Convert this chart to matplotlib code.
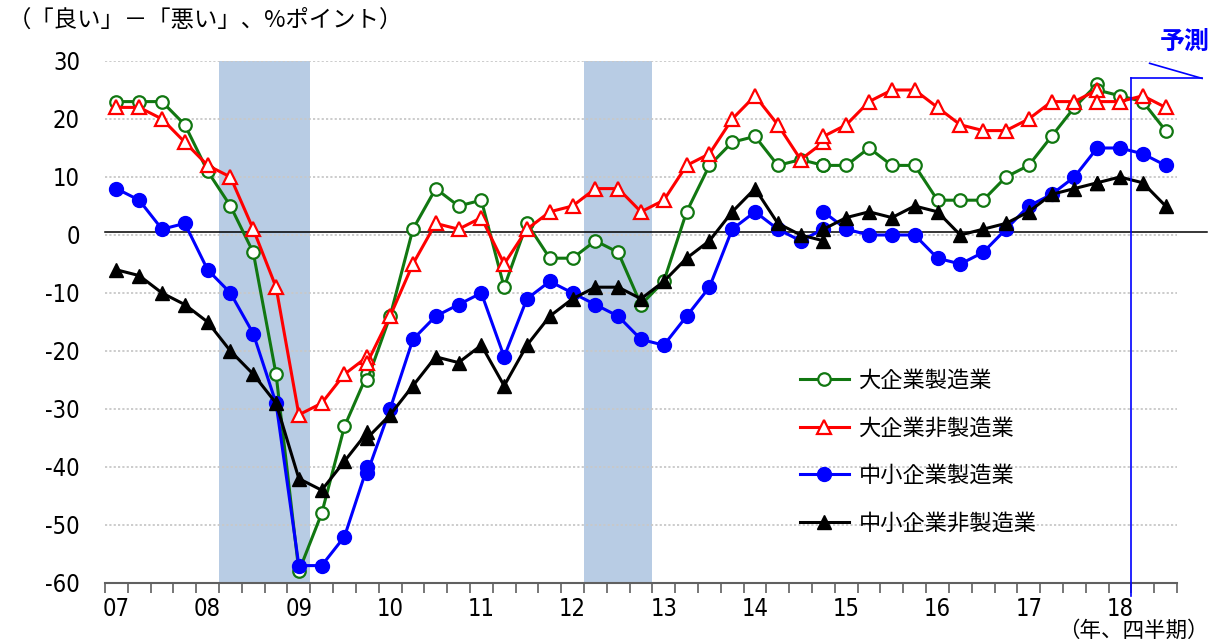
import numpy as np
import pandas as pd
import matplotlib
matplotlib.use("Agg")
import matplotlib.pyplot as plt
from matplotlib.lines import Line2D
from matplotlib import font_manager
from matplotlib.font_manager import FontProperties

plt.rcParams['font.family'] = ['Noto Sans CJK JP', 'DejaVu Sans']


def _pick_narrow():
    files = [f.fname for f in font_manager.fontManager.ttflist]
    for key in ['LiberationSansNarrow-Regular', 'DejaVuSansCondensed.ttf']:
        for fn in files:
            if key in fn:
                return fn
    return None


_narrow = _pick_narrow()

# ---------------- data ----------------
quarters = pd.period_range('2007Q1', '2018Q3', freq='Q')
year_labels = ['07', '08', '09', '10', '11', '12', '13', '14', '15', '16', '17', '18']
series_names = ['大企業製造業', '大企業非製造業', '中小企業製造業', '中小企業非製造業']

# survey framework segments (each segment overlaps at the break quarter)
seg_start = ['2007Q1', '2009Q4', '2014Q4', '2017Q4']
seg_end = ['2009Q4', '2014Q4', '2017Q4', '2018Q3']

large_mfg = [
    [23, 23, 23, 19, 11, 5, -3, -24, -58, -48, -33, -24],
    [-25, -14, 1, 8, 5, 6, -9, 2, -4, -4, -1, -3, -12, -8, 4, 12, 16, 17, 12, 13, 12],
    [12, 12, 15, 12, 12, 6, 6, 6, 10, 12, 17, 22, 26],
    [25, 24, 23, 18],
]
large_nonmfg = [
    [22, 22, 20, 16, 12, 10, 1, -9, -31, -29, -24, -21],
    [-22, -14, -5, 2, 1, 3, -5, 1, 4, 5, 8, 8, 4, 6, 12, 14, 20, 24, 19, 13, 16],
    [17, 19, 23, 25, 25, 22, 19, 18, 18, 20, 23, 23, 25],
    [23, 23, 24, 22],
]
small_mfg = [
    [8, 6, 1, 2, -6, -10, -17, -29, -57, -57, -52, -40],
    [-41, -30, -18, -14, -12, -10, -21, -11, -8, -10, -12, -14, -18, -19, -14, -9, 1, 4, 1, -1, 1],
    [4, 1, 0, 0, 0, -4, -5, -3, 1, 5, 7, 10, 15],
    [15, 15, 14, 12],
]
small_nonmfg = [
    [-6, -7, -10, -12, -15, -20, -24, -29, -42, -44, -39, -34],
    [-35, -31, -26, -21, -22, -19, -26, -19, -14, -11, -9, -9, -11, -8, -4, -1, 4, 8, 2, 0, -1],
    [1, 3, 4, 3, 5, 4, 0, 1, 2, 4, 7, 8, 9],
    [9, 10, 9, 5],
]

recessions = [('2008Q2', '2009Q1'), ('2012Q2', '2012Q4')]
forecast_from = '2018Q2'

# ---------------- figure ----------------
W, H = 1211, 643
fig = plt.figure(figsize=(W / 100, H / 100), dpi=100)
ax = fig.add_axes([105 / W, 1 - 583 / H, (1177 - 105) / W, (583 - 61) / H])

qpos = {str(q): i for i, q in enumerate(quarters)}

ax.set_xlim(-0.5, len(quarters) - 0.5)
ax.set_ylim(-60, 30)

# recession shading
for a, b in recessions:
    ax.axvspan(qpos[a] - 0.5, qpos[b] + 0.5, color='#b8cce4', lw=0, zorder=0)

# grid
ax.set_yticks(np.arange(-60, 31, 10))
for yv in np.arange(-50, 31, 10):
    ax.axhline(yv, color='#c8c8c8', lw=1.3, ls=(0, (1.2, 1.2)), zorder=0.5)

# zero line
ax.plot([-0.5, 47.8], [0.5, 0.5], color='black', lw=1.1, clip_on=False, zorder=1)

styles = [
    dict(color='#117711', marker='o', mfc='white', mec='#117711', ms=9, mew=1.6),
    dict(color='#ff0000', marker='^', mfc='white', mec='#ff0000', ms=10, mew=1.6),
    dict(color='#0000ff', marker='o', mfc='#0000ff', mec='#0000ff', ms=10, mew=1),
    dict(color='black', marker='^', mfc='black', mec='black', ms=10, mew=1),
]
all_series = [large_mfg, large_nonmfg, small_mfg, small_nonmfg]
handles = []
for name, segs, st in zip(series_names, all_series, styles):
    for s0, s1, vals in zip(seg_start, seg_end, segs):
        xs = np.arange(qpos[s0], qpos[s1] + 1)
        ax.plot(xs, vals, lw=2.2, zorder=3, clip_on=False, **st)
    handles.append(Line2D([], [], lw=2.2, **st))

if _narrow:
    num_fp = FontProperties(fname=_narrow, size=17)
else:
    num_fp = FontProperties(family='Noto Sans CJK JP', size=16)

# x ticks: quarter boundaries (marks) and year labels (text)
ax.set_xticks(np.arange(-0.5, len(quarters), 1))
ax.set_xticklabels([])
ax.tick_params(axis='x', which='major', length=7, width=1.2, color='#606060', direction='out')
ax.set_xticks(np.arange(0, len(quarters), 4), minor=True)
ax.set_xticklabels(year_labels, minor=True, fontproperties=num_fp)
ax.tick_params(axis='x', which='minor', length=0, pad=10)
ax.set_yticklabels([str(v) for v in np.arange(-60, 31, 10)], fontproperties=num_fp)
ax.tick_params(axis='y', length=0, pad=18)

for sp in ['left', 'right', 'top']:
    ax.spines[sp].set_visible(False)
ax.spines['bottom'].set_color('#606060')
ax.spines['bottom'].set_linewidth(1.5)

# forecast marker
fx = qpos[forecast_from] - 0.5
ax.plot([fx, fx], [-62.3, 27.0], color='#0000ff', lw=1.2, clip_on=False, zorder=4)
ax.plot([fx, 47.6], [27.0, 27.0], color='#0000ff', lw=1.2, clip_on=False, zorder=4)
ax.plot([45.3, 47.6], [29.6, 27.0], color='#0000ff', lw=1.2, clip_on=False, zorder=4)
ax.text(46.85, 33.3, '予測', color='#0000ff', fontsize=18, fontweight='bold',
        ha='center', va='center', clip_on=False)

# legend
ax.legend(handles, series_names, loc='upper left', bbox_to_anchor=(0.648, 0.41),
          frameon=False, fontsize=16, handlelength=2.2, handletextpad=0.45,
          labelspacing=1.1, borderpad=0, borderaxespad=0)

fig.text(8 / W, 1 - 20 / H, '（「良い」－「悪い」、%ポイント）', fontsize=16.8, ha='left', va='center')
fig.text(1209 / W, 1.5 / H, '（年、四半期）', fontsize=15.5, ha='right', va='bottom')

fig.savefig('out.png', dpi=100)
